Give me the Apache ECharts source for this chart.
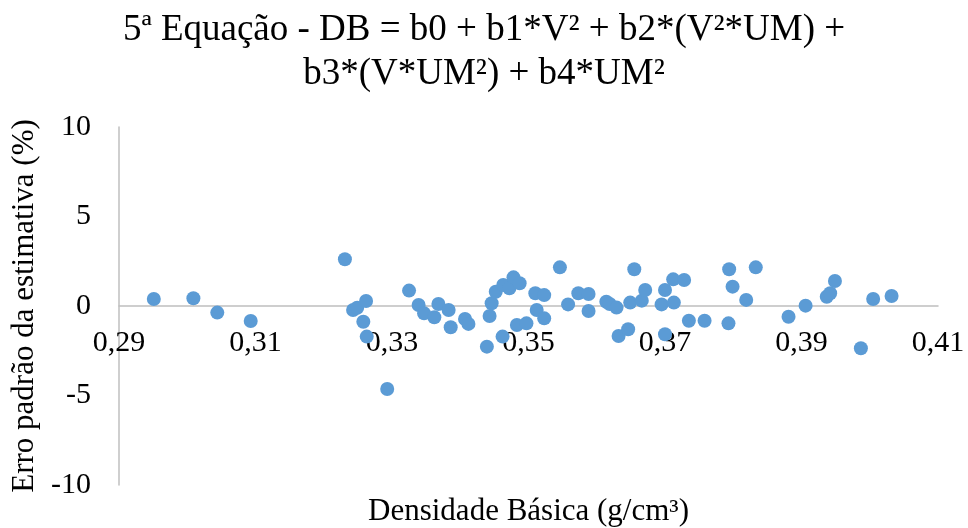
<!DOCTYPE html>
<html>
<head>
<meta charset="utf-8">
<script src="https://cdn.jsdelivr.net/npm/echarts@6/dist/echarts.min.js"></script>
<style>
html,body{margin:0;padding:0;background:#fff;}
#chart{width:968px;height:528px;}
</style>
</head>
<body>
<div id="chart"></div>
<script>
const densidade = [
  0.2951, 0.3009, 0.3044, 0.3093, 0.3231, 0.3243, 0.3249, 0.3262, 0.3258, 0.3263,
  0.3293, 0.3325, 0.3339, 0.3347, 0.3362, 0.3368, 0.3383, 0.3386, 0.3407, 0.3412,
  0.3439, 0.3443, 0.3446, 0.3452, 0.3463, 0.3472, 0.3478, 0.3487, 0.3462, 0.3483,
  0.3497, 0.3510, 0.3512, 0.3523, 0.3523, 0.3546, 0.3558, 0.3573, 0.3588, 0.3588,
  0.3614, 0.3619, 0.3629, 0.3632, 0.3646, 0.3649, 0.3655, 0.3666, 0.3671, 0.3695,
  0.3700, 0.3700, 0.3713, 0.3712, 0.3728, 0.3735, 0.3758, 0.3793, 0.3794, 0.3799,
  0.3819, 0.3833, 0.3881, 0.3906, 0.3937, 0.3942, 0.3949, 0.3987, 0.4005, 0.4032
];
const erro = [
  0.39, 0.43, -0.37, -0.84, 2.61, -0.22, -0.10, 0.28, -0.88, -1.71,
  -4.64, 0.86, 0.06, -0.41, -0.63, 0.11, -0.22, -1.19, -0.73, -1.00,
  -2.27, -0.56, 0.15, 0.80, 1.17, 0.99, 1.60, 1.27, -1.71, -1.06,
  -0.97, 0.71, -0.22, 0.61, -0.69, 2.16, 0.09, 0.71, 0.67, -0.28,
  0.24, 0.11, -0.09, -1.68, -1.30, 0.19, 2.05, 0.30, 0.89, 0.09,
  0.89, -1.58, 0.19, 1.49, 1.45, -0.82, -0.82, -0.97, 2.05, 1.08,
  0.34, 2.16, -0.60, 0.02, 0.52, 0.71, 1.40, -2.36, 0.39, 0.56
];
const titleText = '5ª Equação - DB = b0 + b1*V² + b2*(V²*UM) +\nb3*(V*UM²) + b4*UM²';
const xName = 'Densidade Básica (g/cm³)';
const yName = 'Erro padrão da estimativa (%)';
const xMin = 0.29, xMax = 0.41, xStep = 0.02;
const yMin = -10, yMax = 10, yStep = 5;

const font = 'Liberation Serif';
const gridTop = 127, gridBottom = 43, chartH = 528;
const plotH = chartH - gridTop - gridBottom;
// move the x axis (line + labels) up to y = 0
const zeroOffset = -plotH * (0 - yMin) / (yMax - yMin);

const chart = echarts.init(document.getElementById('chart'), null, {renderer: 'canvas'});
chart.setOption({
  backgroundColor: '#fff',
  animation: false,
  title: {
    text: titleText,
    left: 'center',
    top: 3,
    textStyle: {fontFamily: font, fontSize: 37, fontWeight: 'normal', color: '#000', lineHeight: 44}
  },
  grid: {left: 119, right: 30, top: gridTop, bottom: gridBottom, containLabel: false, outerBoundsMode: 'none'},
  xAxis: {
    type: 'value',
    min: xMin, max: xMax, interval: xStep,
    offset: zeroOffset,
    name: xName,
    nameLocation: 'middle',
    nameGap: 190,
    nameTextStyle: {fontFamily: font, fontSize: 31, color: '#000'},
    axisLine: {onZero: false, lineStyle: {color: '#bfbfbf', width: 1.5}},
    axisTick: {show: false},
    splitLine: {show: false},
    axisLabel: {
      fontFamily: font, fontSize: 30, color: '#000', margin: 22,
      formatter: v => v.toFixed(2).replace('.', ',')
    }
  },
  yAxis: {
    type: 'value',
    min: yMin, max: yMax, interval: yStep,
    name: yName,
    nameLocation: 'middle',
    nameGap: 75,
    nameTextStyle: {fontFamily: font, fontSize: 31, color: '#000'},
    axisLine: {show: true, lineStyle: {color: '#bfbfbf', width: 1.5}},
    axisTick: {show: false},
    splitLine: {show: false},
    axisLabel: {fontFamily: font, fontSize: 30, color: '#000', margin: 28}
  },
  series: [{
    type: 'scatter',
    symbol: 'circle',
    symbolSize: 14,
    itemStyle: {color: '#5b9bd5', opacity: 1},
    data: densidade.map((x, i) => [x, erro[i]])
  }]
});
</script>
</body>
</html>
